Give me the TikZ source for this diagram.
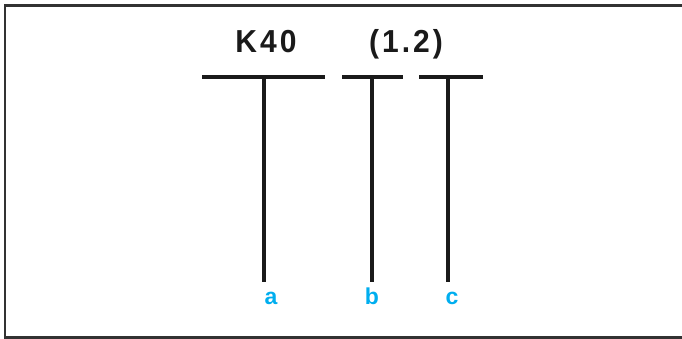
\documentclass[tikz,border=0pt]{standalone}
\usepackage{fontspec}
\setmainfont{Liberation Sans}
\newfontfamily\codefont[LetterSpace=10]{Liberation Sans}
\definecolor{labelcyan}{RGB}{0,174,239}
\definecolor{ink}{RGB}{26,26,26}
\definecolor{frame}{RGB}{50,50,50}
\begin{document}
\begin{tikzpicture}[x=1pt,y=-1pt,
  codetext/.style={inner sep=0pt,anchor=base,font=\codefont\bfseries\fontsize{30}{30}\selectfont,text=ink,yscale=1.06},
  lettertext/.style={inner sep=0pt,anchor=base,font=\bfseries\fontsize{23}{23}\selectfont,text=labelcyan},
  barline/.style={draw=ink,line width=3.5pt},
  stemline/.style={draw=ink,line width=4pt},
  frameline/.style={draw=frame,line width=2.5pt}]
\useasboundingbox (0,0) rectangle (682,339);
% frame
\coordinate (fbl) at (5,337.5);
\coordinate (ftl) at (5,5.3);
\coordinate (ftr) at (683,5.3);
\coordinate (fbr) at (683,337.5);
\draw[frameline] (ftr) -- (ftl) -- (fbl) -- (fbr);
% texts
\node[codetext] (k40) at (266,53) {K40};
\node[codetext] (num) at (406,53) {(1.2)};
% bars
\coordinate (b1l) at (202,77);
\coordinate (b1r) at (325,77);
\coordinate (b2l) at (342,77);
\coordinate (b2r) at (403,77);
\coordinate (b3l) at (419,77);
\coordinate (b3r) at (483,77);
\draw[barline] (b1l) -- (b1r);
\draw[barline] (b2l) -- (b2r);
\draw[barline] (b3l) -- (b3r);
% stems
\coordinate (s1t) at (264,77);
\coordinate (s2t) at (372,77);
\coordinate (s3t) at (448,77);
\coordinate (s1b) at (264,282);
\coordinate (s2b) at (372,282);
\coordinate (s3b) at (448,282);
\draw[stemline] (s1t) -- (s1b);
\draw[stemline] (s2t) -- (s2b);
\draw[stemline] (s3t) -- (s3b);
% labels
\node[lettertext] (la) at (271,304) {a};
\node[lettertext] (lb) at (372,304) {b};
\node[lettertext] (lc) at (452,304) {c};
\end{tikzpicture}
\end{document}
